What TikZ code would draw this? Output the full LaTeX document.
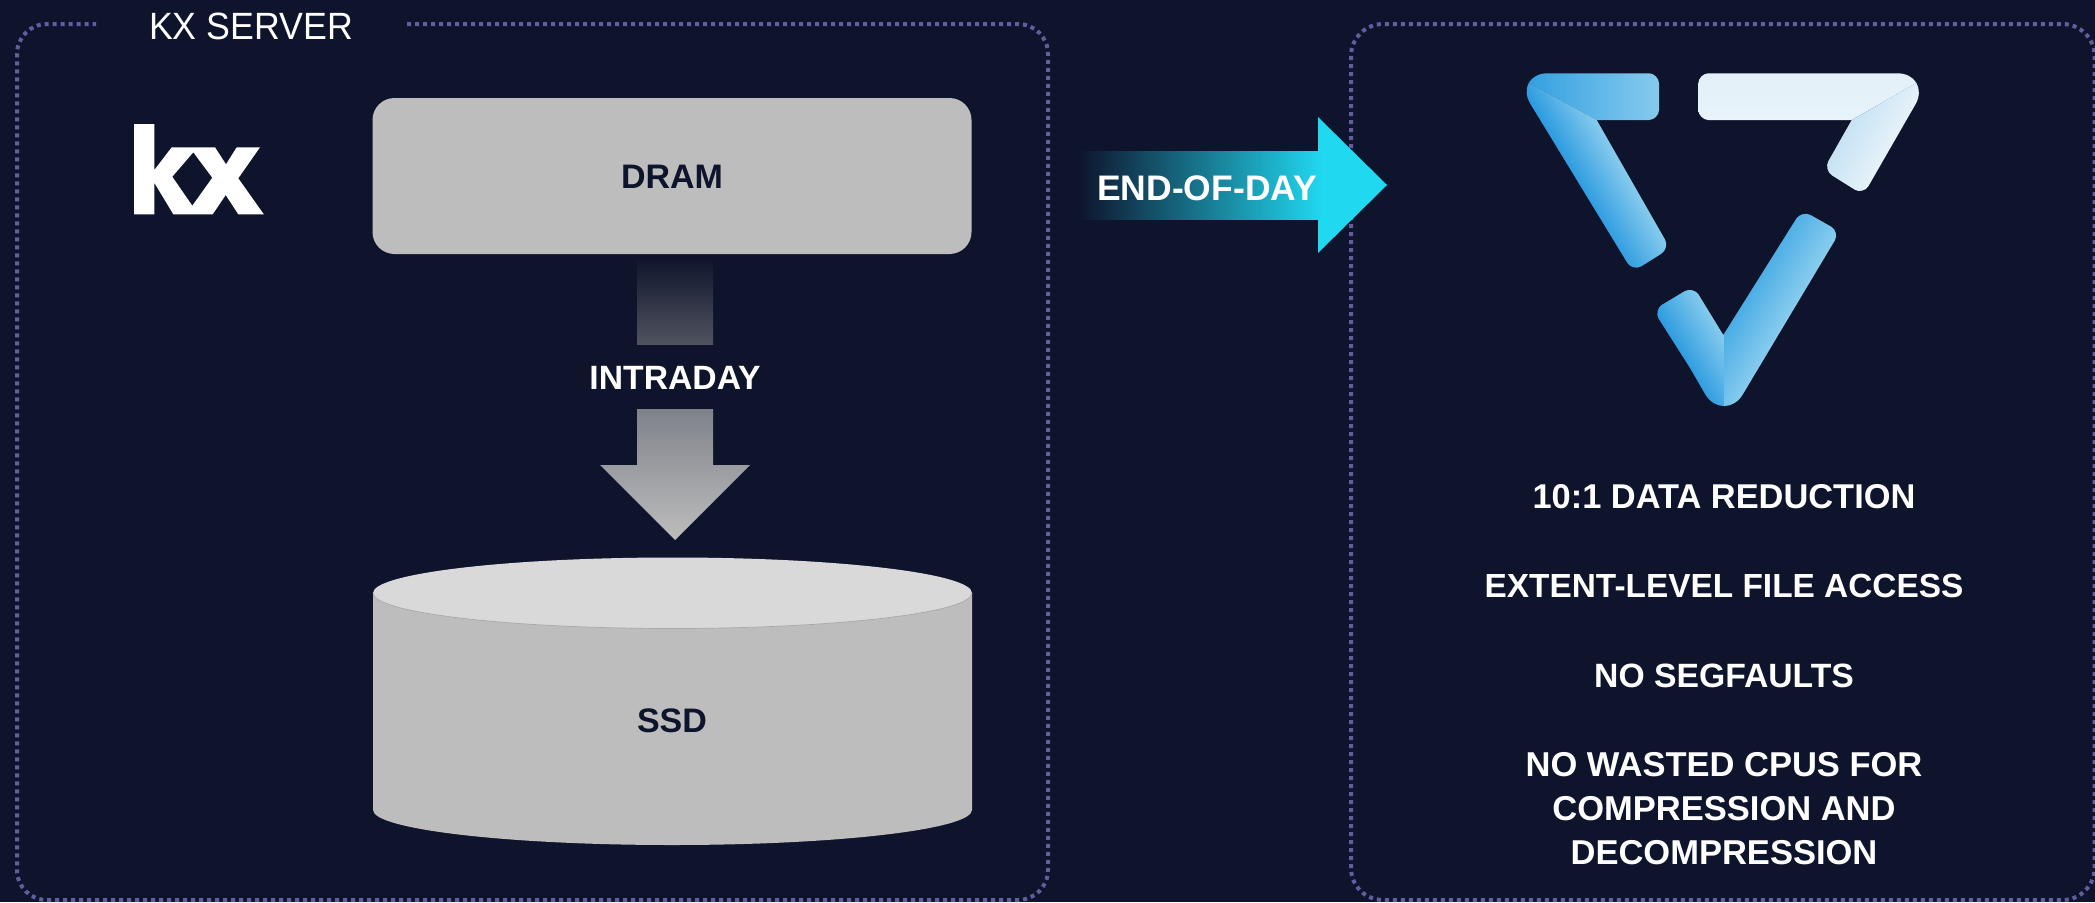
\documentclass[tikz,border=0pt]{standalone}
\usepackage{fontspec}
\setmainfont{Liberation Sans}
\usetikzlibrary{calc}
\definecolor{bg}{HTML}{0E142C}
\definecolor{dotc}{HTML}{5F5F9F}
\definecolor{grayf}{HTML}{BDBDBD}
\definecolor{toplid}{HTML}{D9D9D9}
\definecolor{lidedge}{HTML}{A8A8AC}
\definecolor{cyanf}{HTML}{20D8F0}
\definecolor{arrowtop}{HTML}{7F828A}
\definecolor{arrowmid}{HTML}{B2B2B3}
\definecolor{fadeend}{HTML}{50535F}
\definecolor{blDeep}{HTML}{2A9ADF}
\definecolor{blMid}{HTML}{55B1E8}
\definecolor{blLight}{HTML}{8CCEEF}
\definecolor{blSoft}{HTML}{48ACE5}
\definecolor{blSofter}{HTML}{6ABDEB}
\definecolor{whEdge}{HTML}{E8F3FA}
\definecolor{whMid}{HTML}{D6E9F5}
\definecolor{whTop}{HTML}{E3F0F9}
\definecolor{whShade}{HTML}{C6E2F4}
\newcommand\xbar[8]{\begin{scope}[transform canvas={shift={(#1,#2)},rotate=#3}]\shade[top color=#6,middle color=#7,bottom color=#8] (-#4,-#5) rectangle (#4,#5);\end{scope}}
\newcommand\rc[4]{-- ($(#2)!#4!(#1)$) .. controls ($(#2)!0.5*#4!(#1)$) and ($(#2)!0.5*#4!(#3)$) .. ($(#2)!#4!(#3)$)}
\tikzset{
 x=1pt,y=-1pt,
 panel/.style={draw=dotc,line width=4pt,dash pattern=on 4pt off 4pt},
 lbl/.style={font=\fontsize{33.7}{44}\selectfont\bfseries,text=white,align=center,inner sep=0pt},
 dark/.style={font=\fontsize{34}{40}\selectfont\bfseries,text=bg,inner sep=0pt}
}
\begin{document}
\begin{tikzpicture}
\useasboundingbox (0,0) rectangle (2095,902);
\fill[bg] (0,0) rectangle (2095,902);
% panels
\coordinate (gapL) at (96,24);
\coordinate (gapR) at (407,24);
\draw[panel,rounded corners=30pt] (gapR) -- (1048,24) -- (1048,900) -- (17,900) -- (17,24) -- (gapL);
\draw[panel,rounded corners=32pt] (1351,24) rectangle (2094.5,900);
\node[font=\fontsize{38}{40}\selectfont,text=white,inner sep=0pt,xscale=.94] (title) at (251,26) {KX SERVER};
% kx logo
\fill[white,even odd rule] (134,124)--(154.3,124)--(154.3,170)--(171.7,147.3)--(215,147.3)--(226,164.3)--(236.7,147.3)--(260,147.3)--(238.3,178.3)--(263.8,214.3)--(238.3,214.3)--(225.7,195)--(212.7,214.3)--(173.3,214.3)--(154.3,182.7)--(154.3,214.3)--(134,214.3)--cycle
 (193.3,152.3)--(212.3,177.7)--(192.3,205.7)--(172.3,176.7)--cycle;
% DRAM
\node[fill=grayf,rounded corners=22pt,minimum width=599pt,minimum height=156pt,inner sep=0pt] (dram) at (672,176) {};
\node[dark] (dramt) at (672,177) {DRAM};
% intraday arrow
\shade[top color=bg,bottom color=fadeend] (637,258) rectangle (713,344);
\node[lbl] (intra) at (675,378) {INTRADAY};
\shade[top color=arrowtop,middle color=arrowmid,bottom color=grayf] (637,409) -- (713,409) -- (713,465) -- (750,465) -- (675,540) -- (600,465) -- (637,465) -- cycle;
% cylinder
\fill[grayf] (373,593) -- (373,810) arc[start angle=180,end angle=0,x radius=299.5,y radius=35] -- (972,593) -- cycle;
\fill[toplid] (672.5,593) ellipse[x radius=299.5,y radius=35.5];
\draw[lidedge,line width=.7pt] (373,593) arc[start angle=180,end angle=0,x radius=299.5,y radius=35.5];
\node[dark] (ssd) at (672,721) {SSD};
% end of day arrow
\fill[cyanf] (1318,117) -- (1387,185) -- (1318,253) -- cycle;
\shade[left color=bg,right color=cyanf] (1078,151) rectangle (1322,219);
\node[lbl,font=\fontsize{35.5}{40}\selectfont\bfseries] (eod) at (1207,188) {END-OF-DAY};
% logo, left piece
\coordinate (pa) at (1511.7,73.3);
\coordinate (pb) at (1659,73.3);
\coordinate (pc) at (1659,120);
\coordinate (pd) at (1596.7,120);
\coordinate (pe) at (1670,248.3);
\coordinate (pf) at (1632.7,271.7);
\begin{scope}
\clip (1580,73.3) \rc{pa}{pb}{pc}{10pt} \rc{pb}{pc}{pd}{10pt} -- (pd) \rc{pd}{pe}{pf}{10pt} \rc{pe}{pf}{pa}{10pt} \rc{pf}{pa}{pb}{36pt} -- cycle;
\begin{scope}
\clip (pa) -- (pd) -- (1700,120) -- (1700,60) -- (1480,60) -- cycle;
\xbar{1590}{96.7}{90}{40}{80}{blDeep}{blMid}{blLight}
\end{scope}
\begin{scope}
\clip (pa) -- (pd) -- (1713,306) -- (1480,306) -- (1480,73.3) -- cycle;
\xbar{1600}{173.3}{-60}{150}{26}{blLight}{blMid}{blDeep}
\end{scope}
\end{scope}
% logo, white piece
\coordinate (qa) at (1698.3,73.3);
\coordinate (qb) at (1933.3,73.3);
\coordinate (qc) at (1863.3,195);
\coordinate (qd) at (1823.3,170);
\coordinate (qe) at (1851.7,120);
\coordinate (qf) at (1698.3,120);
\begin{scope}
\clip (1800,73.3) \rc{qa}{qb}{qc}{36pt} \rc{qb}{qc}{qd}{10pt} \rc{qc}{qd}{qe}{10pt} -- (qe) \rc{qe}{qf}{qa}{10pt} \rc{qf}{qa}{qb}{10pt} -- cycle;
\begin{scope}
\clip (qb) -- (qe) -- (1680,130) -- (1680,60) -- (1933.3,60) -- cycle;
\xbar{1800}{96.7}{0}{150}{24}{whTop}{whMid}{whEdge}
\end{scope}
\begin{scope}
\clip (qb) -- (qe) -- (1780,240) -- (1980,240) -- (1980,73.3) -- cycle;
\xbar{1862.3}{150}{60}{110}{26}{whShade}{whMid}{whEdge}
\end{scope}
\end{scope}
% logo, check piece
\coordinate (ra) at (1724.3,425.3);
\coordinate (rb) at (1840,231.7);
\coordinate (rc) at (1801.7,210);
\coordinate (rd) at (1723.3,335);
\coordinate (re) at (1693.3,286);
\coordinate (rf) at (1653.3,310);
\begin{scope}
\clip (1690,368) \rc{rf}{ra}{rb}{36pt} \rc{ra}{rb}{rc}{10pt} \rc{rb}{rc}{rd}{10pt} -- (rd) \rc{rd}{re}{rf}{10pt} \rc{re}{rf}{ra}{10pt} -- cycle;
\begin{scope}
\clip (1640,270) rectangle (1724,440);
\xbar{1699.3}{340}{-60}{110}{26}{blLight}{blMid}{blDeep}
\end{scope}
\begin{scope}
\clip (1724,200) rectangle (1860,440);
\xbar{1768}{306.7}{60}{150}{26}{blSoft}{blSofter}{blLight}
\end{scope}
\end{scope}
% text
\node[lbl,font=\fontsize{34.4}{44}\selectfont\bfseries] (a) at (1724,497) {10:1 DATA REDUCTION};
\node[lbl,font=\fontsize{33.4}{44}\selectfont\bfseries] (b) at (1724,586) {EXTENT-LEVEL FILE ACCESS};
\node[lbl] (c) at (1724,676) {NO SEGFAULTS};
\node[lbl,font=\fontsize{34.5}{44}\selectfont\bfseries] (d) at (1724,809) {NO WASTED CPUS FOR\\COMPRESSION AND\\DECOMPRESSION};
\end{tikzpicture}
\end{document}
